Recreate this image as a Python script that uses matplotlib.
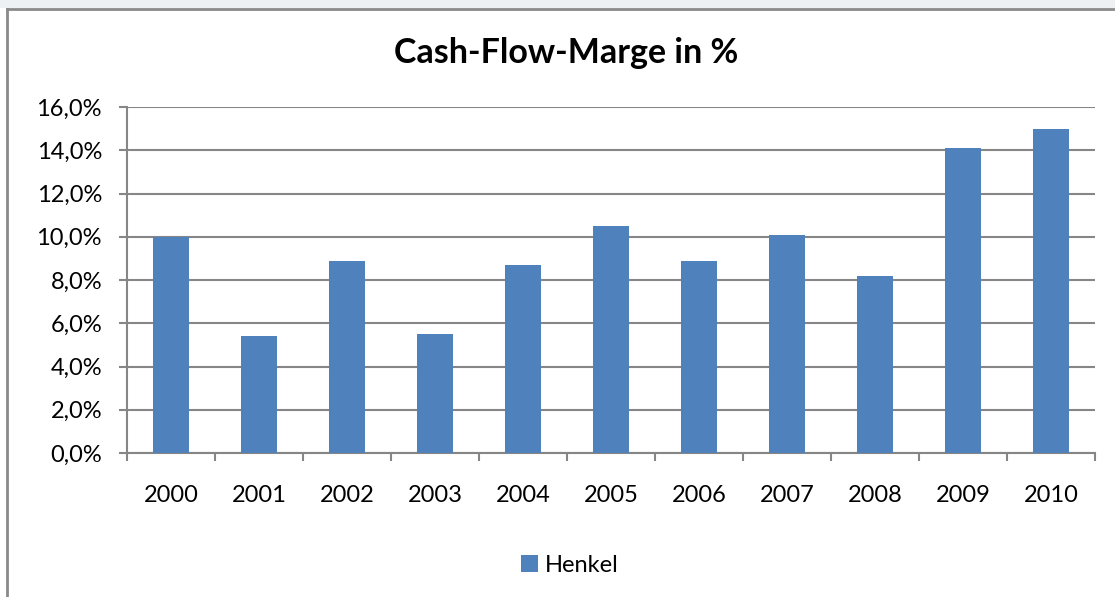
import matplotlib
matplotlib.use("Agg")
import matplotlib.pyplot as plt
from matplotlib.patches import Rectangle
from matplotlib.lines import Line2D
from matplotlib.ticker import FuncFormatter, MultipleLocator
import numpy as np

years = ["2000", "2001", "2002", "2003", "2004", "2005", "2006", "2007", "2008", "2009", "2010"]
henkel = [10.0, 5.4, 8.9, 5.5, 8.7, 10.5, 8.9, 10.1, 8.2, 14.1, 15.0]
title = "Cash-Flow-Marge in %"
series_name = "Henkel"

plt.rcParams['font.family'] = ['Lato', 'DejaVu Sans']

W, H = 1115, 597
fig = plt.figure(figsize=(W / 100, H / 100), dpi=100)
fig.patch.set_facecolor("white")

# top background strip and frame lines (screenshot crop)
fig.add_artist(Rectangle((0, 1 - 8 / H), 1, 8 / H, transform=fig.transFigure,
                         facecolor="#eef1f4", edgecolor="none", zorder=0))
fig.add_artist(Line2D([7 / W, 1], [1 - 9 / H, 1 - 9 / H], transform=fig.transFigure,
                      color="#8a8a8a", lw=2))
fig.add_artist(Line2D([7 / W, 7 / W], [0, 1 - 9 / H], transform=fig.transFigure,
                      color="#8a8a8a", lw=2))

ax = fig.add_axes([127 / W, 1 - 453 / H, (1095 - 127) / W, (453 - 107) / H])
x = np.arange(len(years))
ax.bar(x, henkel, width=0.4, color="#4F81BD", zorder=3, label=series_name)

ax.set_xlim(-0.5, len(years) - 0.5)
ax.set_ylim(0, 16)
ax.yaxis.set_major_locator(MultipleLocator(2))
ax.yaxis.set_major_formatter(FuncFormatter(lambda v, p: f"{v:.1f}%".replace(".", ",")))
ax.grid(axis="y", color="#868686", lw=1.5, zorder=0)
ax.set_axisbelow(True)

ax.set_xticks(x)
ax.set_xticklabels(years)
ax.set_xticks(np.arange(-0.5, len(years)), minor=True)
ax.tick_params(axis="x", which="major", length=0, pad=23, labelsize=17)
ax.tick_params(axis="x", which="minor", length=6, width=1.5, color="#868686", direction="out")
ax.tick_params(axis="y", length=6, width=1.5, color="#868686", pad=12, labelsize=17)

for s in ["top", "right"]:
    ax.spines[s].set_visible(False)
for s in ["left", "bottom"]:
    ax.spines[s].set_color("#868686")
    ax.spines[s].set_linewidth(1.5)

fig.text(566 / W, 1 - 53 / H, title, ha="center", va="center", fontsize=24.5, fontweight="bold")

fig.legend(loc="center", bbox_to_anchor=(570 / W, 1 - 565 / H), frameon=False,
           fontsize=17, handlelength=0.7, handleheight=0.7, handletextpad=0.3)

fig.savefig("out.png", dpi=100, facecolor="white")
